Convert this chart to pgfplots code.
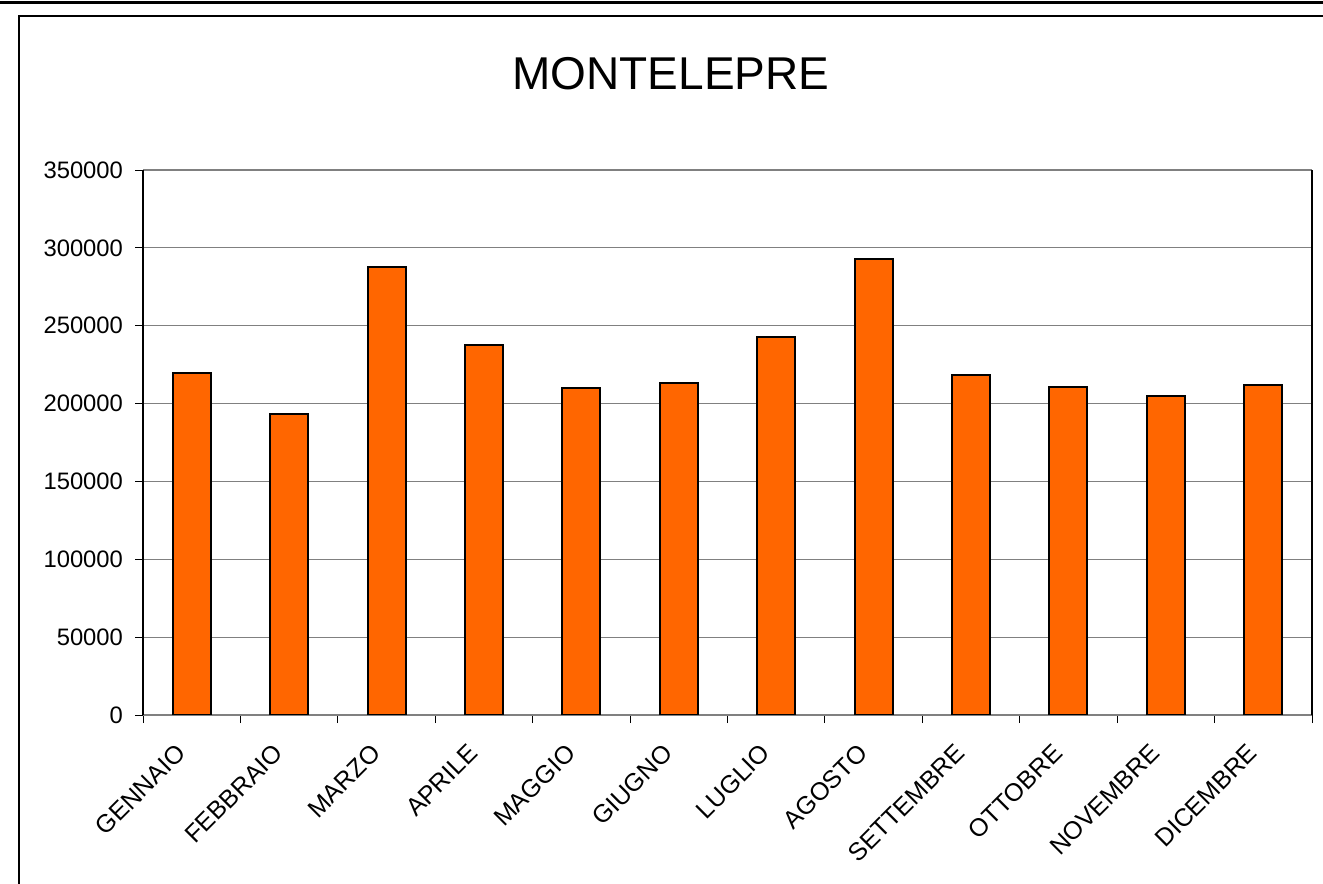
\documentclass[border=0pt]{standalone}
\usepackage{fontspec}
\setmainfont{Liberation Sans}
\usepackage{pgfplots}
\pgfplotsset{compat=1.18}
\definecolor{barorange}{HTML}{FF6600}
\definecolor{gridgray}{HTML}{808080}
\begin{document}
\begin{tikzpicture}
\path[use as bounding box, fill=white] (0bp,0bp) rectangle (661.5bp,442bp);
\draw[line width=1.5bp] (0bp,440.75bp) -- (661.5bp,440.75bp);
\draw[line width=1bp] (662bp,434bp) -- (9.5bp,434bp) -- (9.5bp,-1bp);
\node[font=\fontsize{23bp}{27bp}\selectfont, anchor=base, inner sep=0pt] at (335.5bp,397bp) {MONTELEPRE};
\begin{axis}[
  at={(71.5bp,84.5bp)}, anchor=south west,
  scale only axis, width=584.5bp, height=272.5bp,
  xmin=0.5, xmax=12.5, ymin=0, ymax=350000,
  ytick={0,50000,...,350000},
  scaled y ticks=false,
  yticklabel style={xshift=-2.5bp, /pgf/number format/.cd, fixed, 1000 sep={}},
  /pgf/number format/assume math mode=true,
  tick label style={font=\fontsize{11.9bp}{14bp}\selectfont, black},
  xtick={1,...,12},
  xticklabels={GENNAIO,FEBBRAIO,MARZO,APRILE,MAGGIO,GIUGNO,LUGLIO,AGOSTO,SETTEMBRE,OTTOBRE,NOVEMBRE,DICEMBRE},
  xticklabel style={font=\fontsize{12.5bp}{14bp}\selectfont, rotate=45, anchor=north east, xshift=-9.5bp, yshift=2.5bp},
  minor xtick={0.5,1.5,...,12.5},
  tick align=outside,
  xtick pos=bottom, ytick pos=left,
  x tick style={draw=none},
  minor x tick style={draw=black, line width=0.5bp},
  minor tick length=4bp,
  y tick style={draw=black, line width=0.5bp},
  major tick length=4bp,
  ymajorgrids,
  grid style={gridgray, line width=0.6bp},
  axis line style={gridgray, line width=0.6bp},
  separate axis lines,
  y axis line style={black},
]
\addplot[ybar, bar width=0.39, fill=barorange, draw=black, line width=1bp] coordinates {
(1,219500) (2,193000) (3,288000) (4,237700) (5,209900) (6,213300)
(7,242700) (8,292800) (9,218400) (10,210900) (11,204800) (12,212200)
};
\end{axis}
\end{tikzpicture}
\end{document}
